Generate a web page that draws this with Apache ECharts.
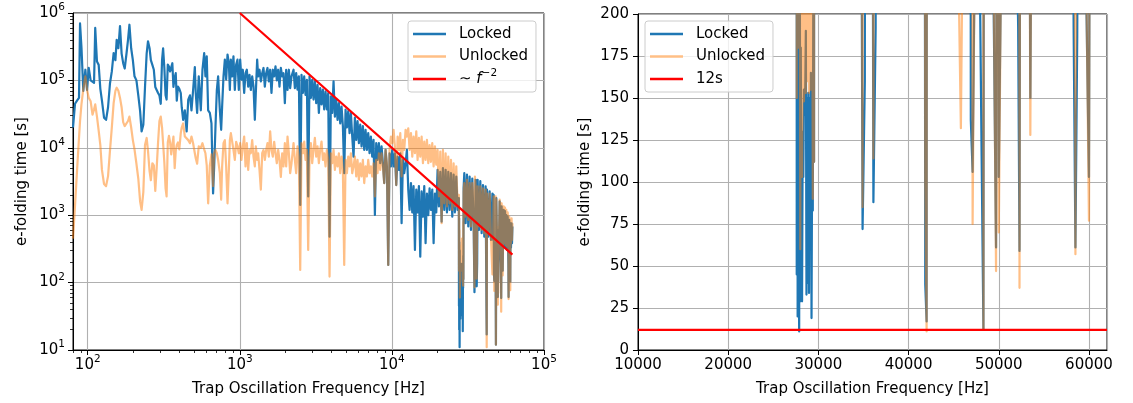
<!DOCTYPE html>
<html>
<head>
<meta charset="utf-8">
<title>e-folding time vs trap frequency</title>
<script src="https://cdn.jsdelivr.net/npm/echarts@6.0.0/dist/echarts.min.js"></script>
<style>
  html, body { margin: 0; padding: 0; background: #fff; }
  #chart { width: 1133px; height: 403px; }
</style>
</head>
<body>
<div id="chart"></div>
<script>
// frequencies [Hz] and e-folding times [s]
const freqLow = [80, 82.5, 85, 87.6, 89, 91, 93.5, 96.5, 99, 101.5, 104.5, 107.5, 110, 112, 115, 118, 121, 124, 128, 132,
  136, 140, 144, 148, 152, 155, 159, 163, 167, 171, 175, 180, 184, 188, 193, 198, 203, 209, 215, 221,
  226, 232, 238, 244, 249, 255, 260, 266, 272, 278, 284, 290, 296, 302, 308, 313, 319, 325, 330, 336,
  342, 348, 354, 360, 366, 373, 379, 385, 392, 400, 409]
const lockedLow = [20000, 45000, 50000, 55000, 700000, 300000, 70000, 144000, 72000, 153000, 100000, 97000, 92000, 600000, 190000, 170000, 75000, 50000, 28000, 26000,
  40000, 90000, 136000, 255000, 200000, 400000, 300000, 640000, 250000, 180000, 150000, 255000, 400000, 670000, 300000, 200000, 115000, 100000, 60000, 35000,
  17500, 22000, 80000, 250000, 380000, 300000, 200000, 170000, 144000, 80000, 75000, 65000, 60000, 45000, 200000, 300000, 153000, 60000, 52000, 172000,
  160000, 136000, 140000, 180000, 80000, 110000, 128000, 50000, 81000, 75000, 65000]
const unlockedLow = [450, 1400, 4500, 14000, 25000, 45000, 75000, 115000, 72000, 55000, 49000, 31000, 37000, 44000, 29000, 18000, 11000, 4700, 2900, 2700,
  3800, 9000, 20000, 46000, 70000, 78000, 70000, 55000, 40000, 24000, 21000, 21000, 25000, 29000, 20000, 13000, 9500, 5800, 3500, 1600,
  1200, 2200, 11000, 14000, 9000, 4500, 3300, 5900, 5500, 2300, 5000, 12000, 25000, 29000, 20000, 11700, 6000, 2500, 1900, 12000,
  15000, 12000, 8000, 11000, 14700, 5000, 9000, 11000, 12000, 9500, 16500]

const freqMid = [415, 424, 435, 447, 458, 470, 481, 493, 506, 513, 524, 537, 554, 568, 583, 594, 606, 619, 635, 651,
  667, 678, 692, 706, 720, 739, 754, 765, 781, 797, 813, 830, 847, 860, 873, 890, 908, 927, 946, 965,
  985, 1005, 1025, 1046, 1068, 1090, 1112, 1135, 1158, 1181, 1206, 1230, 1255, 1274, 1300, 1320, 1347, 1375, 1403, 1431,
  1460, 1490, 1520, 1551, 1583, 1615, 1648, 1682, 1716, 1751, 1787, 1823, 1861, 1899, 1937, 1977, 2017, 2059, 2101, 2143, 2187]
const lockedMid = [40000, 26000, 36000, 17500, 52000, 60000, 36000, 72000, 158000, 65000, 33000, 115000, 36000, 144000, 255000, 115000, 228000, 36000, 33000, 23000,
  2100, 5200, 21000, 72000, 115000, 36000, 18500, 41000, 115000, 203000, 103000, 242000, 180000, 72000, 203000, 115000, 228000, 72000, 172000, 203000,
  72000, 203000, 103000, 144000, 65000, 128000, 144000, 81000, 121000, 72000, 115000, 81000, 26000, 65000, 203000, 115000, 144000, 97000, 128000, 153000,
  81000, 128000, 153000, 97000, 144000, 65000, 144000, 115000, 162000, 100000, 144000, 81000, 153000, 115000, 128000, 46000, 144000, 72000, 144000, 77000, 115000]
const unlockedMid = [20000, 23000, 14700, 14700, 13000, 11700, 14700, 11700, 8300, 7000, 5800, 10500, 10000, 11700, 9500, 8300, 5500, 1500, 5500, 8000,
  2700, 8300, 9300, 8300, 6600, 4200, 1700, 5300, 11700, 13000, 5300, 1500, 4700, 13000, 16500, 16500, 9300, 6600, 12300, 10500,
  8300, 11700, 6600, 10500, 14700, 5300, 11700, 4700, 9300, 8300, 13000, 7400, 5300, 10500, 6600, 8300, 4700, 2400, 8300, 9300,
  6600, 9300, 11700, 7400, 17500, 9300, 7400, 12300, 8300, 5900, 9300, 6600, 3700, 8300, 5300, 11700, 5300, 14700, 8300, 4200, 5900]

const freqHighA = [2255, 2301, 2347, 2395, 2444, 2495, 2545, 2598, 2650, 2704, 2759, 2815, 2873, 2932, 2991, 3052, 3115, 3178, 3243, 3309,
  3377, 3446, 3516, 3588, 3661, 3736, 3812, 3890, 3969, 4050, 4133, 4217, 4303, 4391, 4480, 4572, 4665, 4760, 4857, 4957,
  5058, 5161, 5266, 5374, 5483, 5595, 5709, 5826, 5944, 6066, 6189, 6315, 6444, 6576, 6710, 6846, 6986, 7128, 7274, 7422,
  7574, 7728, 7885, 8046, 8210, 8377, 8548, 8722, 8900, 9082, 9270, 9460, 9650, 9850, 10050, 10260, 10460, 10680, 10900, 11120,
  11350, 11580, 11810, 12050]
const lockedHighA = [144000, 77000, 128000, 73000, 115000, 1420, 121000, 65000, 115000, 61000, 102000, 1900, 115000, 55000, 102000, 52000, 97000, 46000, 86000, 33000,
  77000, 44000, 73000, 37000, 69000, 37000, 65000, 480, 58000, 33000, 97000, 29000, 52000, 26000, 46000, 23000, 41000, 21000, 4200, 37000,
  20000, 35000, 16500, 33000, 14700, 7400, 28000, 13100, 25000, 11700, 22000, 10500, 21000, 9300, 18500, 9300, 16500, 8300, 14700, 7400,
  13100, 1010, 11700, 6600, 11700, 5900, 10500, 5900, 3000, 9300, 5300, 183, 8300, 5300, 9300, 5300, 8300, 2800, 7400, 4700,
  8300, 760, 6600, 4200]
const unlockedHighA = [11700, 6600, 4200, 10500, 7400, 154, 11700, 8300, 12400, 6600, 9300, 305, 7400, 11700, 5900, 9300, 14000, 7400, 10500, 5900,
  9300, 12400, 6600, 8300, 5300, 9300, 6600, 123, 8300, 5900, 9300, 4700, 7400, 5300, 8300, 4200, 7400, 4700, 183, 6600,
  4200, 7400, 5300, 8300, 4200, 5300, 7400, 3750, 6600, 3350, 5900, 3750, 6600, 3000, 5300, 3750, 6600, 4200, 5300, 3750,
  5900, 1900, 6600, 4200, 8300, 4700, 8300, 5300, 3000, 9300, 5900, 183, 9300, 14700, 11700, 18500, 10500, 2800, 14700, 9300,
  16500, 3750, 13100, 9300]

const freqHighB = [12300, 12550, 12810, 13070, 13340, 13610, 13880, 14170, 14460, 14750, 15050, 15360, 15680, 16000, 16320, 16650, 16990, 17340, 17690, 18050,
  18420, 18800, 19180, 19570, 19970, 20380, 20800, 21220, 21650, 22100, 22550, 23010, 23480, 23960, 24450, 24940, 25450, 25970, 26500, 27040]
const lockedHighB = [5900, 9300, 2400, 1200, 3000, 1100, 2700, 305, 2400, 1100, 2700, 243, 2250, 950, 2700, 384, 2100, 1000, 2500, 1200,
  2400, 384, 2100, 1100, 4700, 1350, 4400, 800, 5000, 1200, 4700, 1100, 4400, 1200, 4200, 950, 4000, 1100, 3750, 1200]
const unlockedHighB = [18500, 14700, 19500, 9300, 16500, 7400, 14700, 8300, 17500, 6600, 14000, 7400, 14700, 5900, 12400, 6600, 13100, 5900, 11000, 6200,
  11700, 5300, 10500, 5600, 9300, 1900, 8800, 760, 9300, 1500, 8300, 1350, 7400, 1500, 6600, 1200, 5900, 1350, 5300, 1350]

// the dense cluster of resonances around 28 kHz
const freqHighC = [27300, 27550, 27600, 27650, 27700, 27760, 27820, 27870, 27930, 27990, 28050, 28120, 28190, 28260, 28330, 28400, 28470, 28540, 28610, 28680,
  28750, 28820, 28890, 28960, 29030, 29100, 29170, 29240, 29310, 29380, 29450, 29520, 29600]
const lockedHighC = [1500, 1800, 45, 900, 20, 400, 55, 11, 300, 29, 180, 60, 29, 130, 103, 155, 140, 153, 190, 33,
  150, 40, 153, 34, 150, 60, 165, 19, 120, 83, 250, 112, 2500]
const unlockedHighC = [1400, 2000, 150, 1200, 400, 180, 600, 200, 350, 60, 250, 300, 103, 220, 160, 148, 300, 180, 153, 350,
  170, 160, 450, 153, 200, 300, 155, 400, 250, 90, 800, 112, 2200]

const freqHighD = [29920, 30530, 31150, 31780, 32430, 33100, 33770, 34460, 34900, 35150, 35500, 35880, 36100, 36350, 36610, 37360, 38120, 38900, 39690, 40500,
  41320, 41850, 42000, 42170, 43030, 43910, 44800, 45800, 46300, 46650, 46900, 47100, 47600, 48100, 48300, 48570, 49100, 49700, 49850, 50000,
  50570, 51100, 51610, 52150, 52300, 52660, 53500, 53730, 54300, 54830, 55400, 55950, 56500, 57090, 57700, 58300, 58500, 58700, 59100, 59440,
  60000, 60300, 60650, 61200, 61600, 62000]
const lockedHighD = [4200, 760, 4000, 680, 3750, 605, 3500, 760, 72, 160, 3350, 605, 88, 192, 3350, 605, 3200, 540, 2800, 480,
  2670, 39, 17, 2400, 480, 2250, 430, 2100, 430, 2000, 137, 106, 384, 115, 12, 1800, 384, 61, 600, 103,
  384, 1600, 384, 192, 59, 1350, 150, 384, 1200, 345, 1150, 330, 1000, 305, 950, 192, 61, 187, 850, 305,
  103, 760, 330, 760, 384, 680]
const unlockedHighD = [3000, 950, 3350, 850, 3000, 680, 3000, 950, 85, 3750, 2670, 760, 114, 1200, 2670, 680, 2670, 605, 2500, 540,
  2400, 99, 11, 2100, 540, 2100, 480, 132, 430, 1900, 1200, 75, 430, 1900, 12, 1700, 430, 47, 650, 70,
  430, 1700, 384, 1500, 37, 1500, 128, 430, 1350, 384, 1300, 360, 1200, 345, 1100, 700, 57, 800, 950, 345,
  77, 850, 384, 900, 430, 760]

// ~f^-2 guide line and the 12 s limit
const powerLawFreq = [1000, 62000]
const powerLawTime = [1e6, 260]
const limitFreq = [10000, 62000]
const limitTime = [12, 12]

// matplotlib-style minor ticks on the log axes
const minorTicksX = [80, 90, 200, 300, 400, 500, 600, 700, 800, 900, 2000, 3000, 4000, 5000, 6000, 7000, 8000, 9000,
  20000, 30000, 40000, 50000, 60000, 70000, 80000, 90000]
const minorTicksY = [20, 30, 40, 50, 60, 70, 80, 90, 200, 300, 400, 500, 600, 700, 800, 900, 2000, 3000, 4000, 5000, 6000, 7000, 8000, 9000,
  20000, 30000, 40000, 50000, 60000, 70000, 80000, 90000, 200000, 300000, 400000, 500000, 600000, 700000, 800000, 900000]

function zip(xs, ys) {
  return xs.map((x, i) => [x, ys[i]])
}

const freq = freqLow.concat(freqMid, freqHighA, freqHighB, freqHighC, freqHighD)
const lockedData = zip(freq, lockedLow.concat(lockedMid, lockedHighA, lockedHighB, lockedHighC, lockedHighD))
const unlockedData = zip(freq, unlockedLow.concat(unlockedMid, unlockedHighA, unlockedHighB, unlockedHighC, unlockedHighD))

const FONT = 'DejaVu Sans'
const BLUE = '#1f77b4'
const ORANGE = '#ff7f0e'
const POWER = '~f^-2'

const powRich = {
  b: { fontFamily: FONT, fontSize: 15, lineHeight: 22, color: '#000' },
  s: { fontFamily: FONT, fontSize: 10.5, lineHeight: 11, verticalAlign: 'top', color: '#000' }
}
function powLabel(v) {
  return '{b|10}{s|' + Math.round(Math.log10(v)) + '}'
}

const gridLine = { show: true, lineStyle: { color: '#b0b0b0', width: 1.1 } }
const axisLine = { show: true, lineStyle: { color: '#000', width: 1 } }
const majorTick = { show: true, length: 5, lineStyle: { color: '#000', width: 1 } }

function minorAxis(gridIndex, values, min, max, position) {
  return {
    type: 'log', gridIndex: gridIndex, min: min, max: max, position: position, silent: true,
    axisLine: { show: false }, axisLabel: { show: false }, splitLine: { show: false },
    axisTick: { show: true, length: 3, customValues: values, lineStyle: { color: '#000', width: 0.8 } }
  }
}

function legendBox(left, thirdName) {
  return {
    orient: 'vertical', left: left, top: 21, icon: 'rect', itemWidth: 33, itemHeight: 2.5, itemGap: 0.5,
    padding: [2, 8, 2, 5], backgroundColor: 'rgba(255,255,255,0.8)', borderColor: '#cccccc', borderWidth: 1, borderRadius: 3,
    data: [
      { name: 'Locked', itemStyle: { color: BLUE, opacity: 1 } },
      { name: 'Unlocked', itemStyle: { color: '#ffbf86', opacity: 1 } },
      { name: thirdName, itemStyle: { color: '#ff0000', opacity: 1 } }
    ],
    formatter: name => name === POWER ? '∼ {i|f}{s|−2}' : name,
    textStyle: {
      fontFamily: FONT, fontSize: 15, color: '#000', lineHeight: 22, padding: [0, 0, 0, 8],
      rich: {
        i: { fontFamily: FONT, fontSize: 15, fontStyle: 'italic', lineHeight: 22, color: '#000' },
        s: { fontFamily: FONT, fontSize: 10.5, lineHeight: 11, verticalAlign: 'top', color: '#000' }
      }
    }
  }
}

function lineSeries(name, data, color, xi, yi, opacity) {
  return {
    name: name, type: 'line', xAxisIndex: xi, yAxisIndex: yi, data: data,
    showSymbol: false, symbol: 'none', clip: true,
    itemStyle: { color: color },
    lineStyle: { color: color, width: 2.2, opacity: opacity, join: 'round' }
  }
}

const chart = echarts.init(document.getElementById('chart'))
chart.setOption({
  animation: false,
  textStyle: { fontFamily: FONT, fontSize: 15, color: '#000' },
  grid: [
    { left: 73, top: 13, width: 471, height: 337, show: true, borderColor: '#000', borderWidth: 1, outerBoundsMode: 'none' },
    { left: 638, top: 14, width: 469, height: 336, show: true, borderColor: '#000', borderWidth: 1, outerBoundsMode: 'none' }
  ],
  legend: [legendBox(408, POWER), legendBox(645, '12s')],
  xAxis: [
    {
      type: 'log', gridIndex: 0, min: 80, max: 100000, position: 'bottom',
      name: 'Trap Oscillation Frequency [Hz]', nameLocation: 'middle', nameGap: 32,
      nameTextStyle: { fontFamily: FONT, fontSize: 15, color: '#000' },
      axisLine: axisLine, axisTick: majorTick, splitLine: gridLine,
      axisLabel: { margin: 4, showMinLabel: false, formatter: powLabel, rich: powRich }
    },
    {
      type: 'value', gridIndex: 1, min: 10000, max: 62000, interval: 10000, position: 'bottom',
      name: 'Trap Oscillation Frequency [Hz]', nameLocation: 'middle', nameGap: 32,
      nameTextStyle: { fontFamily: FONT, fontSize: 15, color: '#000' },
      axisLine: axisLine, axisTick: majorTick, splitLine: gridLine,
      axisLabel: { margin: 8, showMaxLabel: false, fontFamily: FONT, fontSize: 15, color: '#000', formatter: v => String(v) }
    },
    minorAxis(0, minorTicksX, 80, 100000, 'bottom')
  ],
  yAxis: [
    {
      type: 'log', gridIndex: 0, min: 10, max: 1000000, position: 'left',
      name: 'e-folding time [s]', nameLocation: 'middle', nameGap: 43,
      nameTextStyle: { fontFamily: FONT, fontSize: 15, color: '#000' },
      axisLine: axisLine, axisTick: majorTick, splitLine: gridLine,
      axisLabel: { margin: 8, formatter: powLabel, rich: powRich }
    },
    {
      type: 'value', gridIndex: 1, min: 0, max: 200, interval: 25, position: 'left',
      name: 'e-folding time [s]', nameLocation: 'middle', nameGap: 45,
      nameTextStyle: { fontFamily: FONT, fontSize: 15, color: '#000' },
      axisLine: axisLine, axisTick: majorTick, splitLine: gridLine,
      axisLabel: { margin: 9, fontFamily: FONT, fontSize: 15, color: '#000', formatter: v => String(v) }
    },
    minorAxis(0, minorTicksY, 10, 1000000, 'left')
  ],
  series: [
    lineSeries('Locked', lockedData, BLUE, 0, 0, 1),
    lineSeries('Unlocked', unlockedData, ORANGE, 0, 0, 0.5),
    lineSeries(POWER, zip(powerLawFreq, powerLawTime), '#ff0000', 0, 0, 1),
    lineSeries('Locked', lockedData, BLUE, 1, 1, 1),
    lineSeries('Unlocked', unlockedData, ORANGE, 1, 1, 0.5),
    lineSeries('12s', zip(limitFreq, limitTime), '#ff0000', 1, 1, 1)
  ]
})
</script>
</body>
</html>
